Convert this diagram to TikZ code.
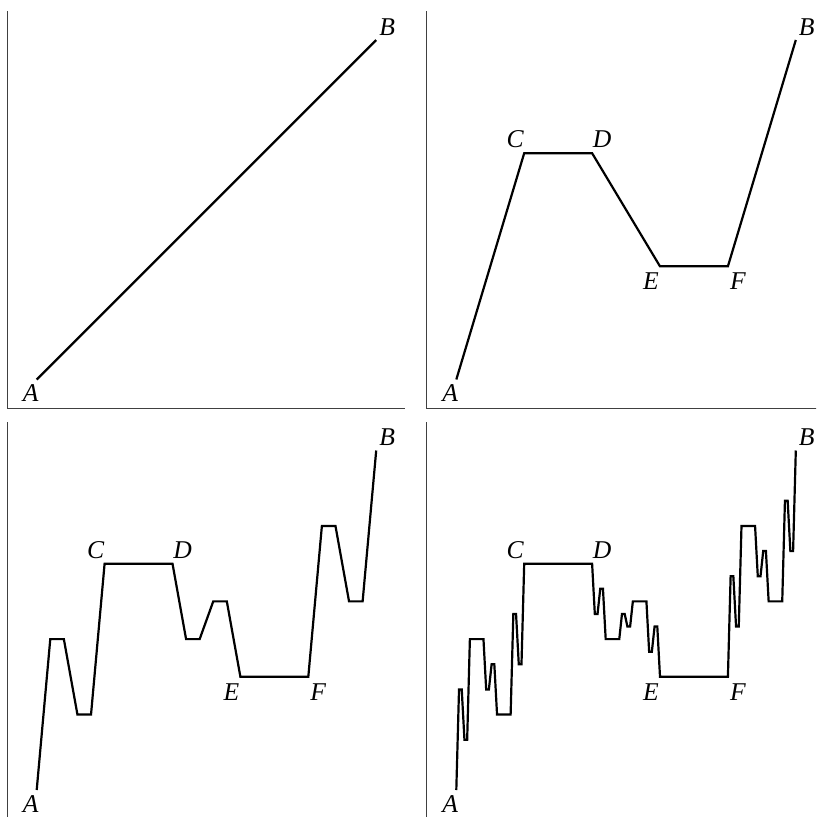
\documentclass[tikz,border=0pt]{standalone}
\usepackage{fontspec}
\newfontfamily\lblfont{Liberation Serif}
\newcommand\frpts{}
\newcommand\fraddpt[2]{\xdef\frpts{\frpts -- (#1,#2)}}
\newcommand\frgen[5]{%
  \ifnum#1=0\relax
    \fraddpt{#4}{#5}%
  \else
    \begingroup
      \pgfmathsetmacro\frdx{#4-(#2)}%
      \pgfmathsetmacro\frdy{#5-(#3)}%
      \pgfmathsetmacro\frxa{#2+0.2*\frdx}%
      \pgfmathsetmacro\frya{#3+(\frdy*2)/3}%
      \pgfmathsetmacro\frxb{#2+0.4*\frdx}%
      \pgfmathsetmacro\frxc{#2+0.6*\frdx}%
      \pgfmathsetmacro\fryc{#3+\frdy/3}%
      \pgfmathsetmacro\frxd{#2+0.8*\frdx}%
      \pgfmathtruncatemacro\frm{#1-1}%
      \edef\frnext{%
        \noexpand\frgen{\frm}{#2}{#3}{\frxa}{\frya}%
        \noexpand\frgen{\frm}{\frxa}{\frya}{\frxb}{\frya}%
        \noexpand\frgen{\frm}{\frxb}{\frya}{\frxc}{\fryc}%
        \noexpand\frgen{\frm}{\frxc}{\fryc}{\frxd}{\fryc}%
        \noexpand\frgen{\frm}{\frxd}{\fryc}{#4}{#5}}%
    \expandafter\endgroup\frnext
  \fi}
\tikzset{
  curve/.style={line width=1.1pt, line join=miter},
  axisline/.style={line width=0.5pt, black!75},
  ptlabel/.style={font=\lblfont\itshape\fontsize{12.8}{15}\selectfont, inner sep=0pt},
}
% #1,#2 pixel position of A; #3 level; #4 name suffix
\newcommand\frpanel[4]{%
  \begin{scope}[shift={(#1,#2)}, x=169.75pt, y=169.75pt]
    \draw[axisline] (-14.7pt,184pt) -- (-14.7pt,-14.25pt) -- (184.25pt,-14.25pt);
    \coordinate (A#4) at (0,0);
    \coordinate (B#4) at (1,1);
    \gdef\frpts{}%
    \frgen{#3}{0}{0}{1}{1}%
    \edef\frtmp{\noexpand\draw[curve] (A#4) \frpts;}%
    \frtmp
    \node[ptlabel, xshift=-3pt, yshift=-7pt] (lA#4) at (A#4) {A};
    \node[ptlabel, xshift=5.5pt, yshift=6.5pt] (lB#4) at (B#4) {B};
    \ifnum#3>0\relax
      \coordinate (C#4) at (0.2,0.66666);
      \coordinate (D#4) at (0.4,0.66666);
      \coordinate (E#4) at (0.6,0.33333);
      \coordinate (F#4) at (0.8,0.33333);
      \node[ptlabel, xshift=-4.5pt, yshift=7pt] (lC#4) at (C#4) {C};
      \node[ptlabel, xshift=5pt, yshift=7pt] (lD#4) at (D#4) {D};
      \node[ptlabel, xshift=-4.5pt, yshift=-7.5pt] (lE#4) at (E#4) {E};
      \node[ptlabel, xshift=5pt, yshift=-7.5pt] (lF#4) at (F#4) {F};
    \fi
  \end{scope}}
\begin{document}
\begin{tikzpicture}[x=0.5pt, y=-0.5pt]
  \useasboundingbox (0,0) rectangle (816,817);
  \clip (0,0) rectangle (816,817);
  \frpanel{36.7}{379.5}{0}{1}
  \frpanel{456.3}{379.5}{1}{2}
  \frpanel{36.7}{790}{2}{3}
  \frpanel{456.3}{790}{3}{4}
\end{tikzpicture}
\end{document}
